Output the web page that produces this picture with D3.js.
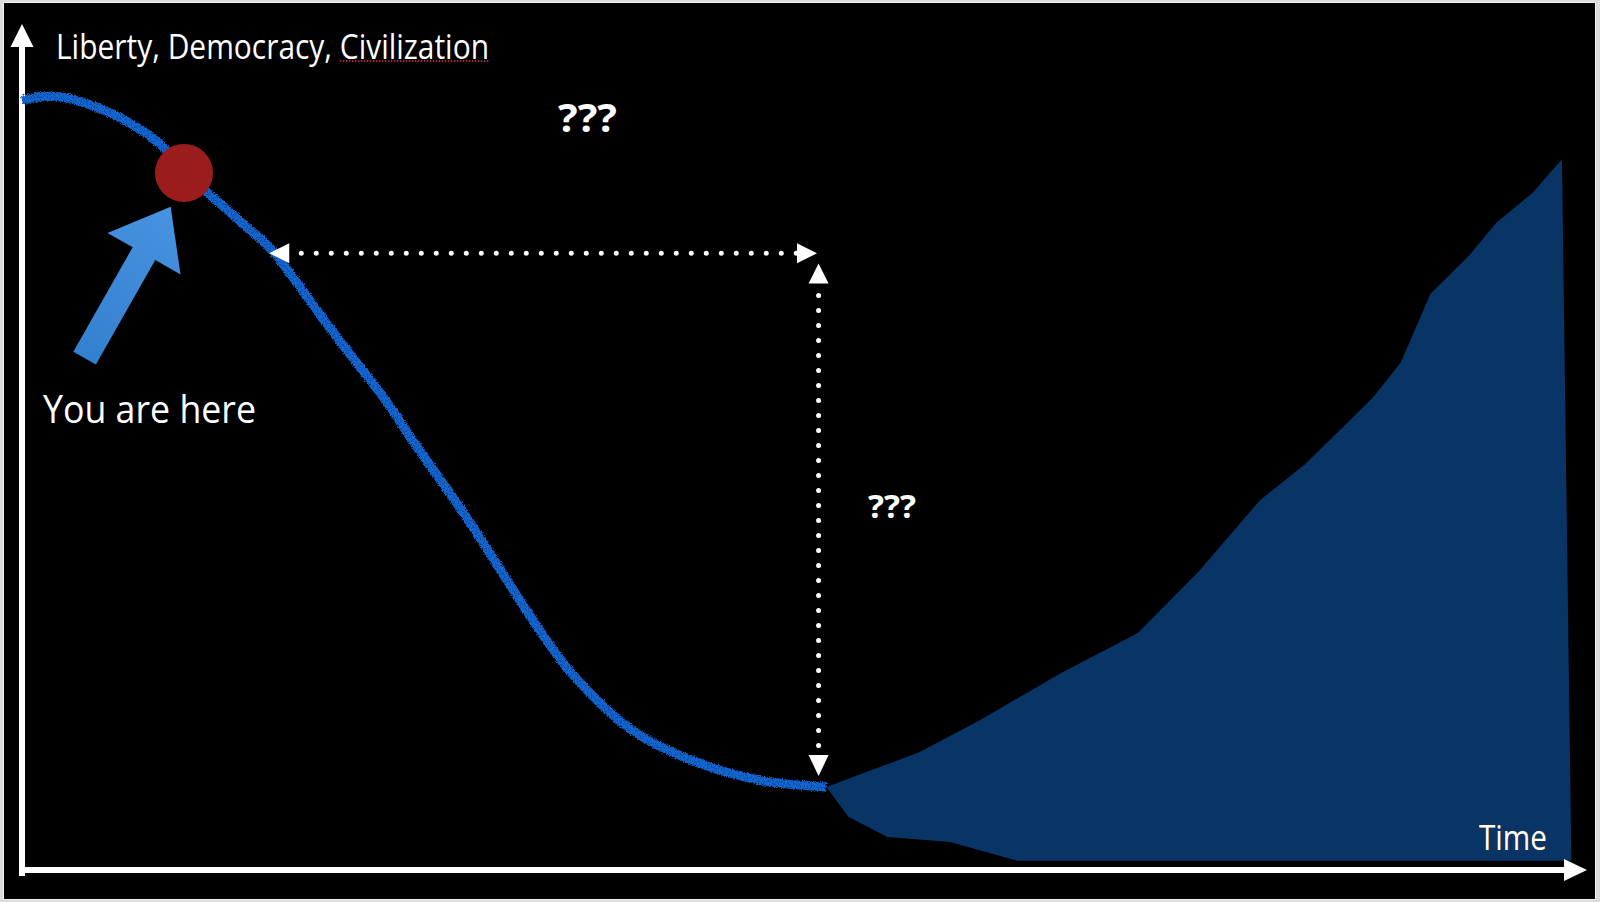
<!DOCTYPE html>
<html>
<head>
<meta charset="utf-8">
<script src="https://cdn.jsdelivr.net/npm/d3@7/dist/d3.min.js"></script>
<style>
  html, body { margin: 0; padding: 0; background: #dcdcdc; }
  svg { display: block; }
</style>
</head>
<body>
<script>
// ---------- DATA (time 0..100, value 0..100) ----------
const curveTime  = [0, 1.2, 2.4, 5.0, 7.5, 9.0, 10.4, 12.2, 14.8, 16.0, 19.9, 23.2, 24.8, 28.5, 33.2, 35.1, 39.0, 43.3, 47.2, 51.4];
const curveValue = [91.0, 91.4, 91.4, 90.0, 87.6, 85.5, 82.5, 79.5, 75.3, 73.2, 63.5, 55.6, 51.2, 41.4, 28.0, 23.3, 16.5, 12.6, 10.6, 9.8];

const upperTime  = [51.4, 57.3, 61.2, 66.4, 71.3, 75.2, 79.1, 82.0, 86.3, 88.1, 90.0, 92.5, 94.2, 96.5, 98.4];
const upperValue = [9.8, 13.9, 17.7, 23.3, 28.0, 35.3, 43.7, 48.0, 55.8, 60.0, 68.1, 72.7, 76.5, 80.0, 84.0];
const lowerTime  = [99.0, 63.6, 59.3, 55.3, 52.8];
const lowerValue = [1.1, 1.1, 3.3, 3.9, 6.3];

const herePoint  = [10.35, 82.4];           // "You are here" marker (time, value)
const arrowTail  = [4.0, 60.5];              // pointer arrow tail (time, value)
const arrowTip   = [9.5, 78.4];              // pointer arrow tip (time, value)
const gapHoriz   = [15.8, 50.8, 72.9];       // time from, time to, at value
const gapVert    = [50.9, 71.7, 11.1];       // at time, value from, value to

const yAxisLabel = "Liberty, Democracy, Civilization";
const xAxisLabel = "Time";
const hereLabel  = "You are here";
const unknownLabels = ["???", "???"];

// ---------- SETUP ----------
const W = 1600, H = 902;
const x = d3.scaleLinear().domain([0, 100]).range([22, 1587]);
const y = d3.scaleLinear().domain([0, 100]).range([870, 24]);

const svg = d3.select("body").append("svg").attr("width", W).attr("height", H);
const defs = svg.append("defs");

// chalk-like filter for the curve
const f = defs.append("filter").attr("id", "chalk")
  .attr("color-interpolation-filters", "sRGB")
  .attr("filterUnits", "userSpaceOnUse").attr("x", 0).attr("y", 0).attr("width", W).attr("height", H);
f.append("feTurbulence").attr("type", "fractalNoise").attr("baseFrequency", 0.9).attr("numOctaves", 2).attr("seed", 3).attr("result", "noise");
f.append("feDisplacementMap").attr("in", "SourceGraphic").attr("in2", "noise").attr("scale", 4)
  .attr("xChannelSelector", "R").attr("yChannelSelector", "G").attr("result", "disp");
f.append("feTurbulence").attr("type", "fractalNoise").attr("baseFrequency", 0.7).attr("numOctaves", 1).attr("seed", 7).attr("result", "n2");
f.append("feColorMatrix").attr("in", "n2").attr("type", "matrix")
  .attr("values", "0 0 0 0 0.04  0 0 0 0 0.30  0 0 0 0 0.62  0 0 0 10 -5.3").attr("result", "specks");
f.append("feComposite").attr("in", "specks").attr("in2", "disp").attr("operator", "in").attr("result", "sp");
const fm = f.append("feMerge");
fm.append("feMergeNode").attr("in", "disp");
fm.append("feMergeNode").attr("in", "sp");

// slide frame
svg.append("rect").attr("x", 0).attr("y", 0).attr("width", W).attr("height", H).attr("fill", "#dcdcdc");
svg.append("rect").attr("x", 3.5).attr("y", 2.5).attr("width", 1592).attr("height", 897)
  .attr("fill", "none").attr("stroke", "#f4f4f4").attr("stroke-width", 1);
svg.append("rect").attr("x", 4).attr("y", 3).attr("width", 1591).attr("height", 896).attr("fill", "#000");

// ---------- FILLED AREA ----------
const poly = upperTime.map((t, i) => [t, upperValue[i]])
  .concat(lowerTime.map((t, i) => [t, lowerValue[i]]));
svg.append("path")
  .attr("d", d3.line().x(d => x(d[0])).y(d => y(d[1])).curve(d3.curveLinearClosed)(poly))
  .attr("fill", "#083566");

// ---------- AXES (arrows) ----------
const axisG = svg.append("g");
const x0 = x(0), yb = y(0);
// y axis
axisG.append("line").attr("x1", x0).attr("x2", x0).attr("y1", yb + 6).attr("y2", y(100) + 22)
  .attr("stroke", "#fff").attr("stroke-width", 6);
axisG.append("path")
  .attr("d", `M${x0},${y(100)} L${x0 + 11.5},${y(100) + 23} L${x0 - 11.5},${y(100) + 23} Z`)
  .attr("fill", "#fff");
// x axis
axisG.append("line").attr("x1", x0 - 3).attr("x2", x(100) - 22).attr("y1", yb).attr("y2", yb)
  .attr("stroke", "#fff").attr("stroke-width", 6);
axisG.append("path")
  .attr("d", `M${x(100)},${yb} L${x(100) - 23},${yb - 11} L${x(100) - 23},${yb + 11} Z`)
  .attr("fill", "#fff");

// ---------- CURVE ----------
const pts = curveTime.map((t, i) => [t, curveValue[i]]);
svg.append("path")
  .attr("d", d3.line().x(d => x(d[0])).y(d => y(d[1])).curve(d3.curveCatmullRom.alpha(0.5))(pts))
  .attr("fill", "none").attr("stroke", "#1566d2").attr("stroke-width", 9)
  .attr("stroke-linecap", "butt").attr("filter", "url(#chalk)");

// ---------- DOTTED GAP ARROWS ----------
const dots = svg.append("g");
const hx1 = x(gapHoriz[0]), hx2 = x(gapHoriz[1]), hy = y(gapHoriz[2]);
dots.append("line").attr("x1", hx1 + 32).attr("x2", hx2 - 20).attr("y1", hy).attr("y2", hy)
  .attr("stroke", "#fff").attr("stroke-width", 5).attr("stroke-linecap", "round").attr("stroke-dasharray", "0 15");
dots.append("path").attr("d", `M${hx1},${hy} L${hx1 + 20},${hy - 10} L${hx1 + 20},${hy + 10} Z`).attr("fill", "#fff");
dots.append("path").attr("d", `M${hx2},${hy} L${hx2 - 20},${hy - 10} L${hx2 - 20},${hy + 10} Z`).attr("fill", "#fff");

const vx = x(gapVert[0]), vy1 = y(gapVert[1]), vy2 = y(gapVert[2]);
dots.append("line").attr("x1", vx).attr("x2", vx).attr("y1", vy1 + 32).attr("y2", vy2 - 20)
  .attr("stroke", "#fff").attr("stroke-width", 5).attr("stroke-linecap", "round").attr("stroke-dasharray", "0 15");
dots.append("path").attr("d", `M${vx},${vy1} L${vx - 10},${vy1 + 20} L${vx + 10},${vy1 + 20} Z`).attr("fill", "#fff");
dots.append("path").attr("d", `M${vx},${vy2} L${vx - 10},${vy2 - 21} L${vx + 10},${vy2 - 21} Z`).attr("fill", "#fff");

// ---------- POINTER ARROW ----------
(function () {
  const tx = x(arrowTail[0]), ty = y(arrowTail[1]);
  const px = x(arrowTip[0]), py = y(arrowTip[1]);
  const dx = px - tx, dy = py - ty, L = Math.hypot(dx, dy);
  const ux = dx / L, uy = dy / L, nx = -uy, ny = ux;
  const sw = 13, hw = 42, hl = 54;
  const bx = px - ux * hl, by = py - uy * hl;
  const p = [
    [tx + nx * sw, ty + ny * sw], [bx + nx * sw, by + ny * sw], [bx + nx * hw, by + ny * hw],
    [px, py],
    [bx - nx * hw, by - ny * hw], [bx - nx * sw, by - ny * sw], [tx - nx * sw, ty - ny * sw]
  ];
  const g = defs.append("linearGradient").attr("id", "arrGrad")
    .attr("gradientUnits", "userSpaceOnUse").attr("x1", tx).attr("y1", ty).attr("x2", px).attr("y2", py);
  g.append("stop").attr("offset", 0).attr("stop-color", "#3480d0");
  g.append("stop").attr("offset", 1).attr("stop-color", "#4893e0");
  svg.append("path").attr("d", "M" + p.map(d => d.join(",")).join("L") + "Z").attr("fill", "url(#arrGrad)");
})();

// ---------- MARKER ----------
svg.append("circle").attr("cx", x(herePoint[0])).attr("cy", y(herePoint[1])).attr("r", 29).attr("fill", "#9a1c1c");

// ---------- TEXT ----------
const FONT = "'Open Sans', 'Noto Sans', sans-serif";
function label(txt, x0, base, size, width, weight) {
  const t = svg.append("text").attr("x", x0).attr("y", base).text(txt)
    .attr("font-family", FONT).attr("font-size", size).attr("font-weight", weight || 400)
    .attr("fill", "#fff");
  t.attr("textLength", width).attr("lengthAdjust", "spacingAndGlyphs");
  return t;
}
const title = label(yAxisLabel, 56, 59, 34, 433);
// spell-check style dotted underline under the last word
(function () {
  const node = title.node();
  const idx = yAxisLabel.lastIndexOf(" ") + 1;
  const start = node.getStartPositionOfChar(idx).x;
  const end = node.getEndPositionOfChar(yAxisLabel.length - 1).x;
  svg.append("line").attr("x1", start).attr("x2", end).attr("y1", 61).attr("y2", 61)
    .attr("stroke", "#e03a3a").attr("stroke-width", 1.5).attr("stroke-dasharray", "1.5 1.5");
})();
label(hereLabel, 43, 423, 38, 213);
label(unknownLabels[0], 558, 132, 40, 59, 700);
label(unknownLabels[1], 868, 518, 33, 48, 700);
label(xAxisLabel, 1479, 850, 34, 68).attr("stroke", "#333").attr("stroke-width", 1).attr("paint-order", "stroke");
</script>
</body>
</html>
